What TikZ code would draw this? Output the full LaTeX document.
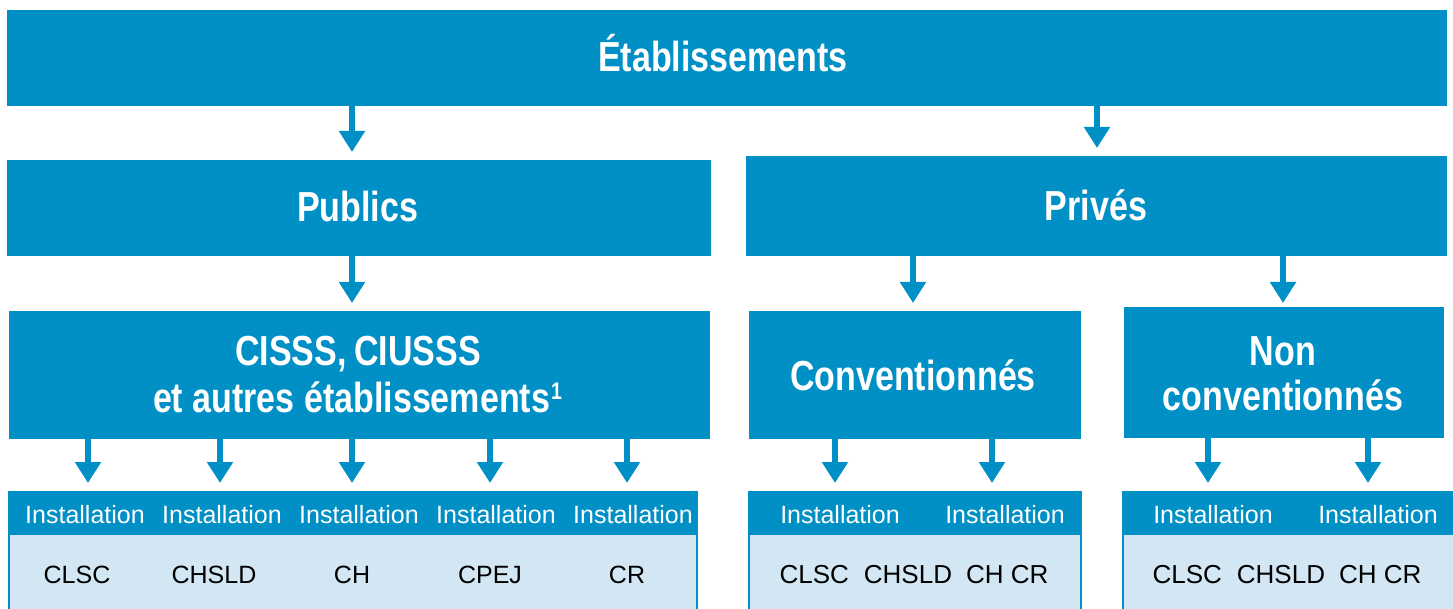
\documentclass[tikz,border=0pt]{standalone}
\usepackage{fontspec}
\setmainfont{Liberation Sans}
\newfontfamily\condfont[FakeStretch=0.81]{Liberation Sans}
\usetikzlibrary{arrows.meta}
\definecolor{mainblue}{HTML}{0090C5}
\definecolor{lightblue}{HTML}{D2E7F3}
\begin{document}
\begin{tikzpicture}[x=1pt,y=-1pt,
  box/.style={fill=mainblue, inner sep=0pt, outer sep=0pt},
  ttl/.style={text=white, inner sep=0pt, anchor=base, font=\condfont\bfseries\fontsize{42}{47}\selectfont},
  hdr/.style={fill=mainblue, draw=mainblue, line width=2pt, inner sep=0pt, outer sep=0pt},
  body/.style={fill=lightblue, draw=mainblue, line width=2pt, inner sep=0pt, outer sep=0pt},
  inst/.style={text=white, inner sep=0pt, anchor=base, font=\fontsize{25}{30}\selectfont},
  code/.style={text=black, inner sep=0pt, anchor=base, font=\fontsize{25}{30}\selectfont},
  codeb/.style={text=black, inner sep=0pt, anchor=base, font=\fontsize{26}{30}\selectfont},
  arr/.style={draw=mainblue, line width=6pt, -{Triangle[width=25pt,length=21pt]}, shorten >=8pt}
]
\useasboundingbox (0,0) rectangle (1453,609);
\clip (0,0) rectangle (1453,609);

% top level
\node[box, minimum width=1440pt, minimum height=96pt] (etab) at (727,58) {};
\node[ttl] (etabT) at (723,72) {Établissements};

% second level
\node[box, minimum width=704pt, minimum height=96pt] (pub) at (359,208) {};
\node[ttl] (pubT) at (357.5,222) {Publics};
\node[box, minimum width=701pt, minimum height=100pt] (priv) at (1096.5,206) {};
\node[ttl] (privT) at (1096,221) {Privés};

% third level
\node[box, minimum width=701pt, minimum height=128pt] (cis) at (359.5,375) {};
\node[ttl] (cisT1) at (358,365) {CISSS,\kern-2pt\ CIUSSS};
\node[ttl] (cisT2) at (357.5,412) {et autres établissements\kern1pt\raisebox{13pt}{\fontsize{24}{24}\selectfont 1}};
\node[box, minimum width=332pt, minimum height=128pt] (conv) at (915,375) {};
\node[ttl] (convT) at (913,390) {Conventionnés};
\node[box, minimum width=320pt, minimum height=131pt] (nconv) at (1284,372.5) {};
\node[ttl] (nconvT1) at (1283,365) {Non};
\node[ttl] (nconvT2) at (1283,410) {conventionnés};

% tables
\node[body, minimum width=688pt, minimum height=158pt] (tabL) at (353,571) {};
\node[hdr, minimum width=688pt, minimum height=42pt] (hdrL) at (353,513) {};
\node[body, minimum width=332pt, minimum height=158pt] (tabM) at (915,571) {};
\node[hdr, minimum width=332pt, minimum height=42pt] (hdrM) at (915,513) {};
\node[body, minimum width=342pt, minimum height=158pt] (tabR) at (1294,571) {};
\node[hdr, minimum width=342pt, minimum height=42pt] (hdrR) at (1294,513) {};

% installation labels
\foreach \x [count=\i] in {85,222,359,496,633} {
  \node[inst] (iL\i) at (\x,523) {Installation};
}
\node[inst] (iM1) at (840,523) {Installation};
\node[inst] (iM2) at (1005,523) {Installation};
\node[inst] (iR1) at (1213,523) {Installation};
\node[inst] (iR2) at (1378,523) {Installation};

% codes
\node[code] (cL1) at (77,583) {CLSC};
\node[code] (cL2) at (214,583) {CHSLD};
\node[code] (cL3) at (352,583) {CH};
\node[code] (cL4) at (490,583) {CPEJ};
\node[code] (cL5) at (627,583) {CR};
\node[codeb] (cM) at (914,583) {CLSC\hspace{15pt}CHSLD\hspace{14pt}CH CR};
\node[codeb] (cR) at (1287,583) {CLSC\hspace{15pt}CHSLD\hspace{14pt}CH CR};

% arrow columns
\coordinate (a1) at (352,0);
\coordinate (a2) at (1097,0);
\coordinate (a3) at (913,0);
\coordinate (a4) at (1283,0);
\draw[arr] (etab.south -| a1) -- (pub.north -| a1);
\draw[arr] (etab.south -| a2) -- (priv.north -| a2);
\draw[arr] (pub.south -| a1) -- (cis.north -| a1);
\draw[arr] (priv.south -| a3) -- (conv.north -| a3);
\draw[arr, shorten >=4pt] (priv.south -| a4) -- (nconv.north -| a4);

\foreach \x in {88,220,352,490,627} {
  \coordinate (b) at (\x,0);
  \draw[arr, shorten >=9pt] (cis.south -| b) -- (hdrL.north -| b);
}
\foreach \x in {835,992} {
  \coordinate (b) at (\x,0);
  \draw[arr, shorten >=9pt] (conv.south -| b) -- (hdrM.north -| b);
}
\foreach \x in {1208,1368} {
  \coordinate (b) at (\x,0);
  \draw[arr, shorten >=9pt] (nconv.south -| b) -- (hdrR.north -| b);
}
\end{tikzpicture}
\end{document}
